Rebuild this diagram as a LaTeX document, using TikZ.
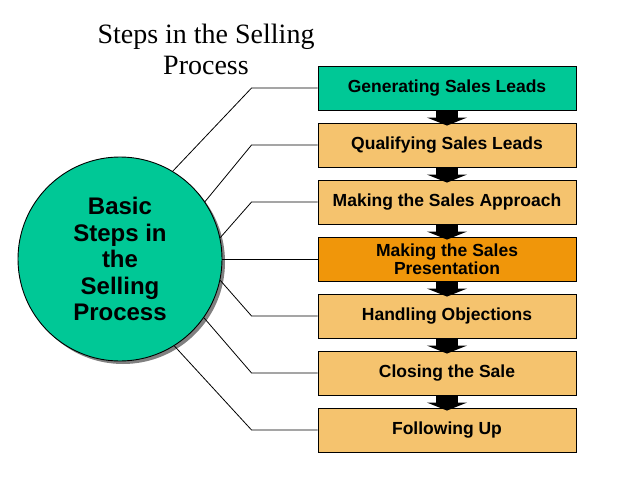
\documentclass[tikz,border=0pt]{standalone}
\usepackage{fontspec}
\setmainfont{Liberation Serif}
\newfontfamily\arialfont{Liberation Sans}
\usetikzlibrary{arrows.meta}
\definecolor{tealg}{RGB}{0,200,150}
\definecolor{lightor}{RGB}{245,195,110}
\definecolor{darkor}{RGB}{240,150,10}
\definecolor{shadowgray}{RGB}{128,128,128}
\begin{document}
\begin{tikzpicture}[x=1pt,y=-1pt,
  stepbox/.style={draw=black, line width=0.9pt, minimum width=258pt, minimum height=44pt,
    inner sep=0pt, align=center, fill=lightor,
    font=\arialfont\bfseries\fontsize{17.5}{18.5}\selectfont},
  conn/.style={draw=black, line width=0.8pt},
  flowarrow/.style={draw=black, line width=22pt, -{Triangle[width=40pt,length=8pt]}},
  bigcircle/.style={circle, minimum size=204pt, inner sep=0pt, align=center}]
\useasboundingbox (0,0) rectangle (638,479);

% boxes
\node[stepbox, fill=tealg] (b1) at (447,88) {Generating Sales Leads};
\node[stepbox] (b2) at (447,145) {Qualifying Sales Leads};
\node[stepbox] (b3) at (447,202) {Making the Sales Approach};
\node[stepbox, fill=darkor] (b4) at (447,259) {Making the Sales\\Presentation};
\node[stepbox] (b5) at (447,316) {Handling Objections};
\node[stepbox] (b6) at (447,373) {Closing the Sale};
\node[stepbox] (b7) at (447,430) {Following Up};

% circle (shadow + main)
\node[bigcircle, fill=shadowgray] (cs) at (123,262) {};
\node[bigcircle, fill=tealg, draw=black, line width=0.9pt,
  font=\arialfont\bfseries\fontsize{24}{26.5}\selectfont] (c) at (120,259)
  {Basic\\Steps in\\the\\Selling\\Process};

% connectors
\draw[conn] (c.59) -- ([xshift=-66pt]b1.west) -- (b1.west);
\draw[conn] (c.34) -- ([xshift=-66pt]b2.west) -- (b2.west);
\draw[conn] (c.12) -- ([xshift=-66pt]b3.west) -- (b3.west);
\draw[conn] (c.0) -- (b4.west);
\draw[conn] (c.-12) -- ([xshift=-66pt]b5.west) -- (b5.west);
\draw[conn] (c.-35) -- ([xshift=-66pt]b6.west) -- (b6.west);
\draw[conn] (c.-58) -- ([xshift=-66pt]b7.west) -- (b7.west);

% flow arrows
\draw[flowarrow] (b1.south) -- ([yshift=-3pt]b2.north);
\draw[flowarrow] (b2.south) -- ([yshift=-3pt]b3.north);
\draw[flowarrow] (b3.south) -- ([yshift=-3pt]b4.north);
\draw[flowarrow] (b4.south) -- ([yshift=-3pt]b5.north);
\draw[flowarrow] (b5.south) -- ([yshift=-3pt]b6.north);
\draw[flowarrow] (b6.south) -- ([yshift=-3pt]b7.north);

% title
\node[align=center, inner sep=0pt, font=\fontsize{28}{31}\selectfont] (title) at (206,49.5)
  {Steps in the Selling\\Process};
\end{tikzpicture}
\end{document}
